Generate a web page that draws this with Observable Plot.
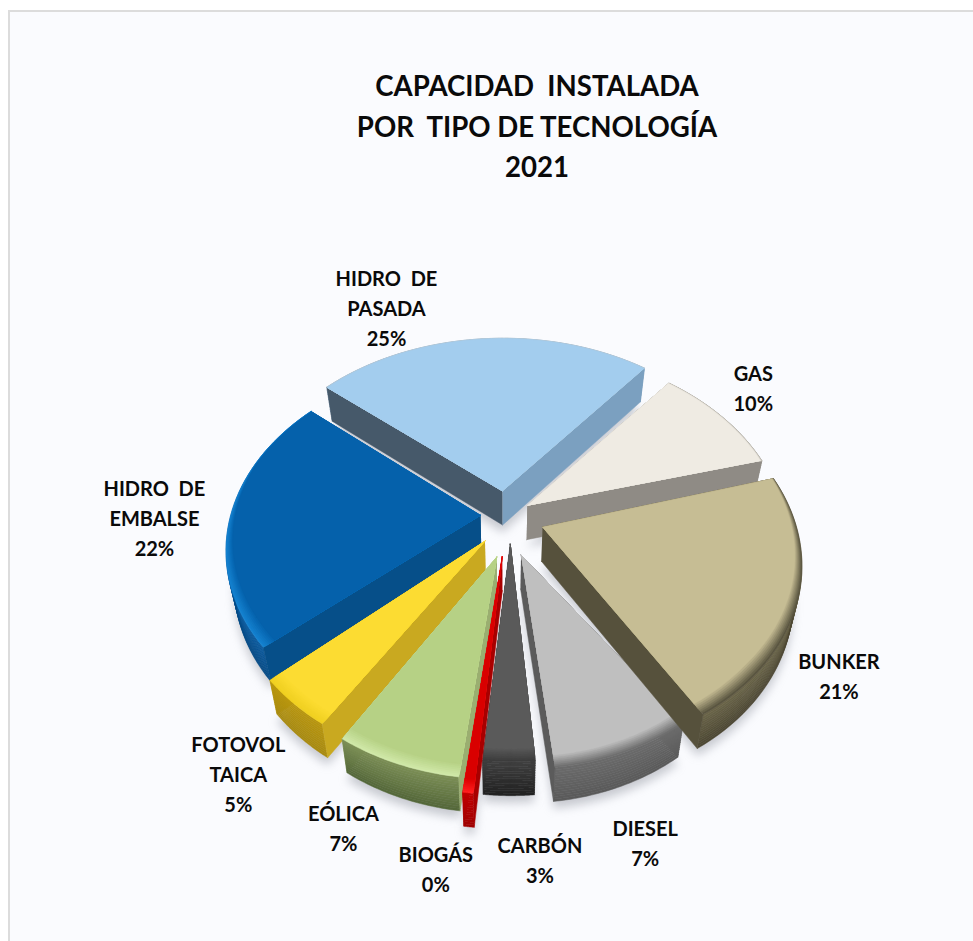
<!DOCTYPE html>
<html><head><meta charset="utf-8">
<script src="https://cdn.jsdelivr.net/npm/d3@7"></script>
<script src="https://cdn.jsdelivr.net/npm/@observablehq/plot@0.6"></script>
<style>
html,body{margin:0;padding:0;background:#fff;}
#frame{position:absolute;left:8px;top:10px;width:965px;height:931px;box-sizing:border-box;background:#fafbfe;border-left:2px solid #dcdcdc;border-top:2px solid #dcdcdc;}
#page{position:absolute;left:0;top:0;width:973px;height:941px;overflow:hidden;font-family:Lato,sans-serif;}
#title{height:124px;padding-top:66px;text-align:center;font-weight:700;font-size:27.6px;line-height:40.5px;color:#0a0a0a;padding-left:101px;width:872px;white-space:pre;}
svg{display:block;background:transparent!important;}
</style></head><body>
<div id="frame"></div>
<div id="page"><div id="title">CAPACIDAD  INSTALADA
POR  TIPO DE TECNOLOGÍA
2021</div><div id="chart"></div></div>
<script>
const categories=["HIDRO  DE\nPASADA","GAS","BUNKER","DIESEL","CARBÓN","BIOGÁS","EÓLICA","FOTOVOL\nTAICA","HIDRO  DE\nEMBALSE"];
const percentLabels=["25%","10%","21%","7%","3%","0%","7%","5%","22%"];
const values=[25,10,21,7,3,0.4,7,4.9,21.7];
const topColors=["#a3cdee","#efebe3","#c6bd94","#bfbfbf","#5a5a5a","#d90000","#b6d185","#fcdc32","#0561ab"];
const bevelColors=["#b8c4cc","#b5b1a8","#5a5540","#6f6f6f","#3c3c3c","#ff2020","#d0e8a8","#f0d020","#1482d0"];
const wallTopColors=["#7ba0c0","#8f8b85","#6a6448","#6a6a6a","#3f3f3f","#c00000","#7b8e55","#b8960f","#0a5a9f"];
const wallBottomColors=["#6a8eae","#7d7974","#4c4733","#5a5a5a","#222222","#a00000","#55683a","#a88a10","#054a85"];
const startWallColors=["#46596a","#8f8b85","#8f8b85","#777777","#3f3f3f","#a80000","#9aae70","#c9a920","#064f89"];
const endWallColors=["#7ba0c0","#8f8b85","#56513c","#5b5b5b","#3f3f3f","#a80000","#9aae70","#c9a920","#064f89"];
const explode=[35,26,40,55,39,55,56,40,25];
const explodeTurn=[0,0,0,0,-9,-5,-13,-13,0];
const startTurn=[0,0,-2,-7,-1.5,-2.5,-2,-1.5,-2.5];
const endTurn=[-1,-1,-2.5,-3,-2,-2,-2,-3.5,0];
const radiusScale=[1.03,1.01,0.985,0.9,0.93,0.98,0.925,0.96,0.98];
const labelRadius=[290,281,295,310,300,325,315,295,280];
const labelDx=[-98,32,39,33,49,-9,-16,-30,-72];
const labelDy=[-36,-32,65,54,70,53,46,74,4];
const drawOrder=[0,1,8,3,2,7,6,4,5];
const cx=505,cy=515,R=255,tilt=0.72,persp=0.0007,depth=34,converge=0.97;
const rad=Math.PI/180;

const arcs=d3.pie().sort(null).value(d=>d).startAngle(-50*rad).endAngle(310*rad)(values);
const midOf=i=>(arcs[i].startAngle+arcs[i].endAngle)/2;
function project(X,Y,f=0){
  const s=1/(1-persp*Y),x=cx+X*s,y=cy+tilt*Y*s;
  return {x:cx+(x-cx)*(1-(1-converge)*f),y:y+depth*f};
}
function P(i,a,r,f=0){
  const dir=midOf(i)+explodeTurn[i]*rad,e=explode[i],rr=r*radiusScale[i];
  return project(e*Math.sin(dir)+rr*Math.sin(a),-e*Math.cos(dir)-rr*Math.cos(a),f);
}
const a0Of=i=>arcs[i].startAngle+startTurn[i]*rad;
const a1Of=i=>arcs[i].endAngle+endTurn[i]*rad;
const poly=(pts,color,extra={})=>Plot.line(pts,{x:"x",y:"y",fill:color,stroke:color,strokeWidth:0.5,...extra});
function angles(i,n=40){const a0=a0Of(i),a1=a1Of(i);return d3.range(n+1).map(k=>a0+(a1-a0)*k/n);}
const bevelWidth=a=>1.5+11*Math.min(1,Math.max(0,-Math.cos(a)+0.3));

const shadowMarks=drawOrder.map(i=>{
  const pts=[P(i,0,0,1)].concat(angles(i).map(a=>P(i,a,R,1))).map(p=>({x:p.x,y:p.y+7}));
  return Plot.line(pts,{x:"x",y:"y",fill:"#8a8f99",fillOpacity:0.45,stroke:"none",imageFilter:"blur(5px)"});
});
const sliceMarks=drawOrder.flatMap(i=>{
  const a=angles(i),marks=[],a0=a0Of(i),a1=a1Of(i);
  const startWall=poly([P(i,0,0),P(i,a0,R),P(i,a0,R,1),P(i,0,0,1)],startWallColors[i]);
  const endWall=poly([P(i,0,0),P(i,a1,R),P(i,a1,R,1),P(i,0,0,1)],endWallColors[i]);
  const startFront=-Math.sin(a0)>0,endFront=Math.sin(a1)>0;
  if(!startFront)marks.push(startWall);
  if(!endFront)marks.push(endWall);
  const N=14,wc=d3.interpolateRgb(wallTopColors[i],wallBottomColors[i]);
  for(let j=0;j<N;j++){
    const top=a.map(t=>P(i,t,R,j/N)),bot=a.map(t=>P(i,t,R,(j+1)/N)).reverse();
    marks.push(poly(top.concat(bot),wc(j/(N-1))));
  }
  if(startFront)marks.push(startWall);
  if(endFront)marks.push(endWall);
  const L=7,bc=d3.interpolateRgb(bevelColors[i],topColors[i]);
  for(let j=0;j<=L;j++){
    const pts=[P(i,0,0)].concat(a.map(t=>P(i,t,R-bevelWidth(t)*j/L)));
    marks.push(poly(pts,bc(j/L)));
  }
  return marks;
});
const labelMarks=categories.map((c,i)=>{
  const m=midOf(i),p=project(labelRadius[i]*Math.sin(m),-labelRadius[i]*Math.cos(m));
  return Plot.text([{x:p.x,y:p.y,t:c+"\n"+percentLabels[i]}],{x:"x",y:"y",text:"t",dx:labelDx[i],dy:labelDy[i],fontSize:20,fontWeight:700,fontFamily:"Lato",lineHeight:1.5,fill:"#0a0a0a"});
});
const chart=Plot.plot({
  width:973,height:751,margin:0,
  x:{domain:[0,973],range:[0,973],axis:null},
  y:{domain:[190,941],range:[0,751],axis:null},
  marks:[...shadowMarks,...sliceMarks,...labelMarks]
});
document.getElementById("chart").append(chart);
</script></body></html>
